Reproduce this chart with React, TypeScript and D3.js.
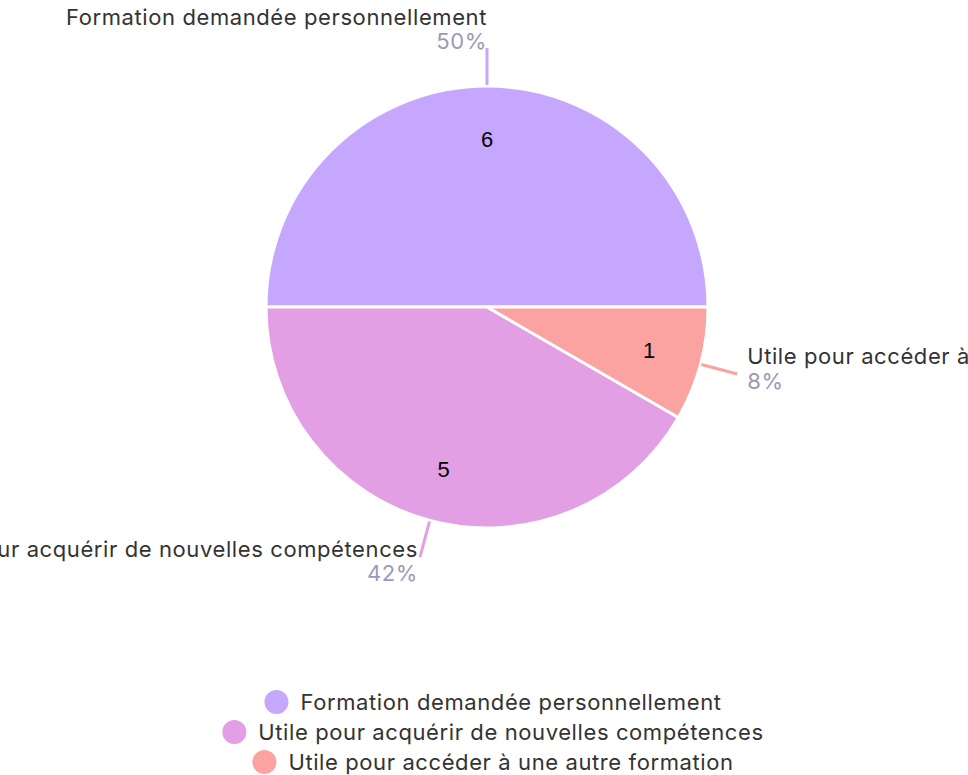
import React from "react";
import * as d3 from "d3";

const categories = [
  "Formation demandée personnellement",
  "Utile pour acquérir de nouvelles compétences",
  "Utile pour accéder à une autre formation",
];
const values = [6, 5, 1];
const percents = ["50%", "42%", "8%"];
const colors = ["#c5a8fe", "#e29fe3", "#fba3a0"];
// clockwise drawing order of the slices (index into categories)
const sliceOrder = [0, 2, 1];

const W = 968;
const H = 775;
const CX = 487;
const CY = 307;
const R = 221;
const FONT = "Inter, 'Open Sans', sans-serif";
const FS = 22;
const LS = 0.6;

export default function App() {
  const idx = d3.range(values.length);
  const pie = d3
    .pie<number>()
    .value((i) => values[i])
    .sort((a, b) => sliceOrder.indexOf(a) - sliceOrder.indexOf(b))
    .startAngle(-Math.PI / 2)
    .endAngle((3 * Math.PI) / 2);
  const arcs = pie(idx);
  const arcGen = d3.arc<d3.PieArcDatum<number>>().innerRadius(0).outerRadius(R);
  const labelArc = d3
    .arc<d3.PieArcDatum<number>>()
    .innerRadius(R * 0.76)
    .outerRadius(R * 0.76);

  const legendY0 = 702;
  const legendStep = 30;

  return (
    <svg
      width={W}
      height={H}
      style={{ position: "absolute", left: 0, top: 0, display: "block", overflow: "hidden" }}
    >
      <rect width={W} height={H} fill="#fff" />
      <g transform={`translate(${CX},${CY})`}>
        {arcs.map((a) => (
          <path
            key={a.data}
            d={arcGen(a) || ""}
            fill={colors[a.data]}
            stroke="#fff"
            strokeWidth={3}
            strokeLinejoin="round"
          />
        ))}
        {arcs.map((a) => {
          const [x, y] = labelArc.centroid(a);
          return (
            <text
              key={"n" + a.data}
              x={x}
              y={y}
              textAnchor="middle"
              dominantBaseline="central"
              fontFamily="'Liberation Sans', Arial, sans-serif"
              fontSize={22}
              fill="#000"
            >
              {values[a.data]}
            </text>
          );
        })}
        {arcs.map((a) => {
          const mid = (a.startAngle + a.endAngle) / 2;
          const sx = Math.sin(mid);
          const sy = -Math.cos(mid);
          const r0 = R + 1;
          const r1 = R + 38;
          const x0 = sx * r0,
            y0 = sy * r0,
            x1 = sx * r1,
            y1 = sy * r1;
          const isTop = Math.abs(sx) < 0.2 && sy < 0;
          const isRight = !isTop && sx > 0;
          let anchor: "start" | "end" = "end";
          let tx = x1,
            ly = y1,
            py = y1;
          if (isTop) {
            anchor = "end";
            tx = x1;
            py = y1 + 1;
            ly = y1 - 23;
          } else if (isRight) {
            anchor = "start";
            tx = x1 + 10;
            ly = y1 - 10;
            py = y1 + 15;
          } else {
            anchor = "end";
            tx = x1 - 2;
            ly = y1;
            py = y1 + 24;
          }
          return (
            <g key={"l" + a.data}>
              <line
                x1={x0}
                y1={y0}
                x2={x1}
                y2={y1}
                stroke={colors[a.data]}
                strokeWidth={3}
              />
              <text
                x={tx}
                y={ly}
                textAnchor={anchor}
                fontFamily={FONT}
                fontSize={FS}
                letterSpacing={LS}
                fill="#333"
              >
                {categories[a.data]}
              </text>
              <text
                x={tx}
                y={py}
                textAnchor={anchor}
                fontFamily={FONT}
                fontSize={FS}
                letterSpacing={LS}
                fill="#9a9ab8"
              >
                {percents[a.data]}
              </text>
            </g>
          );
        })}
      </g>
      <g>
        {categories.map((c, i) => (
          <g key={"lg" + i} transform={`translate(493,${legendY0 + i * legendStep})`}>
            <LegendRow label={c} color={colors[i]} />
          </g>
        ))}
      </g>
    </svg>
  );
}

function LegendRow({ label, color }: { label: string; color: string }) {
  const ref = React.useRef<SVGTextElement>(null);
  const [w, setW] = React.useState(0);
  React.useLayoutEffect(() => {
    if (ref.current) setW(ref.current.getComputedTextLength());
  }, [label]);
  const total = 24 + 12 + w;
  const x0 = -total / 2;
  return (
    <g>
      <circle cx={x0 + 12} cy={0} r={12} fill={color} />
      <text
        ref={ref}
        x={x0 + 36}
        y={8}
        fontFamily={FONT}
        fontSize={FS}
        letterSpacing={LS}
        fill="#333"
      >
        {label}
      </text>
    </g>
  );
}
